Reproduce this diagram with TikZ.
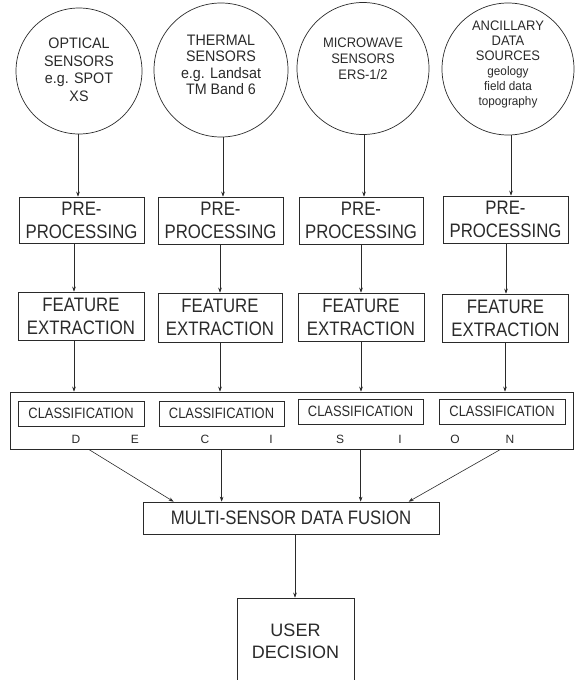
\documentclass[tikz,border=0pt]{standalone}
\usepackage{fontspec}
\setmainfont{Liberation Sans}
\newfontfamily\boxfont[FakeStretch=0.86]{Liberation Sans}
\newfontfamily\circfont[FakeStretch=0.94]{Liberation Sans}
\usetikzlibrary{calc,arrows.meta}
\definecolor{ink}{HTML}{2A2A2A}
\tikzset{
  arr/.style={draw=ink,line width=0.6pt,-{Stealth[length=5pt,width=3.6pt]}},
  sensor/.style={circle,draw=ink,line width=0.7pt,inner sep=0pt},
  ctext/.style={text=ink,align=center,inner sep=0pt},
  stepbox/.style={rectangle,draw=ink,line width=0.7pt,text=ink,align=center,inner sep=0pt,
    font=\boxfont\fontsize{19.5}{23}\selectfont},
  clbox/.style={rectangle,draw=ink,line width=0.7pt,text=ink,inner sep=0pt,
    minimum height=25pt,font=\boxfont\fontsize{15}{17}\selectfont},
  letter/.style={text=ink,inner sep=0pt,anchor=base,font=\fontsize{12}{14}\selectfont}
}
\begin{document}
\begin{tikzpicture}[x=1pt,y=-1pt]
\useasboundingbox (0,0) rectangle (579,680);
% sensors
\node[sensor,minimum size=126pt] (c1) at (79,71) {};
\node[sensor,minimum size=134pt] (c2) at (221,70) {};
\node[sensor,minimum size=132pt] (c3) at (363,68.5) {};
\node[sensor,minimum size=132pt] (c4) at (508,69) {};
\node[ctext,font=\circfont\fontsize{15.2}{17.5}\selectfont] (t1) at ([yshift=1pt]c1.center) {OPTICAL\\SENSORS\\e.g. SPOT\\XS};
\node[ctext,font=\circfont\fontsize{15.2}{16.5}\selectfont] (t2) at ([yshift=5pt]c2.center) {THERMAL\\SENSORS\\e.g. Landsat\\TM Band 6};
\node[ctext,font=\circfont\fontsize{13.8}{16}\selectfont] (t3) at ([yshift=10pt]c3.center) {MICROWAVE\\SENSORS\\ERS-1/2};
\node[ctext,font=\circfont\fontsize{13.8}{15}\selectfont] (t4) at ([yshift=5pt]c4.center)
  {ANCILLARY\\DATA\\SOURCES\\{\fontsize{12.5}{15}\selectfont geology}\\{\fontsize{12.5}{15}\selectfont field data}\\{\fontsize{12.5}{15}\selectfont topography}};
% pre-processing
\node[stepbox,minimum width=125pt,minimum height=46pt] (p1) at (81.5,220) {PRE-\\PROCESSING};
\node[stepbox,minimum width=125pt,minimum height=47pt] (p2) at (220.5,220.5) {PRE-\\PROCESSING};
\node[stepbox,minimum width=124pt,minimum height=47pt] (p3) at (361,220.5) {PRE-\\PROCESSING};
\node[stepbox,minimum width=125pt,minimum height=47pt] (p4) at (505.5,219.5) {PRE-\\PROCESSING};
% feature extraction
\node[stepbox,minimum width=126pt,minimum height=48pt] (f1) at (81,316) {FEATURE\\EXTRACTION};
\node[stepbox,minimum width=124pt,minimum height=49pt] (f2) at (220,317.5) {FEATURE\\EXTRACTION};
\node[stepbox,minimum width=126pt,minimum height=48pt] (f3) at (361,317) {FEATURE\\EXTRACTION};
\node[stepbox,minimum width=126pt,minimum height=48pt] (f4) at (505.5,318) {FEATURE\\EXTRACTION};
% decision box
\node[rectangle,draw=ink,line width=0.7pt,inner sep=0pt,minimum width=563pt,minimum height=57pt] (big) at (291.5,420.5) {};
\node[clbox,minimum width=126pt] (k1) at (81,413.5) {CLASSIFICATION};
\node[clbox,minimum width=125pt] (k2) at (221.5,413.5) {CLASSIFICATION};
\node[clbox,minimum width=125pt] (k3) at (360.5,411.5) {CLASSIFICATION};
\node[clbox,minimum width=126pt] (k4) at (502,411.5) {CLASSIFICATION};
\node[letter] (l1) at (76,443) {D};
\node[letter] (l2) at (135,443) {E};
\node[letter] (l3) at (205,443) {C};
\node[letter] (l4) at (271,443) {I};
\node[letter] (l5) at (340,443) {S};
\node[letter] (l6) at (400,443) {I};
\node[letter] (l7) at (455,443) {O};
\node[letter] (l8) at (510,443) {N};
% fusion and user
\node[stepbox,minimum width=296pt,minimum height=32pt] (fus) at (291,518) {MULTI-SENSOR DATA FUSION};
\node[stepbox,minimum width=117pt,minimum height=86pt,font=\fontsize{18}{22}\selectfont] (user) at (295.5,641) {USER\\DECISION};
% connectors: sensors -> pre-processing
\draw[arr] ([xshift=-1pt]c1.south) -- ([xshift=-1pt]c1.south |- p1.north);
\draw[arr] ([xshift=2pt]c2.south) -- ([xshift=2pt]c2.south |- p2.north);
\draw[arr] ([xshift=1pt]c3.south) -- ([xshift=1pt]c3.south |- p3.north);
\draw[arr] ([xshift=3pt]c4.south) -- ([xshift=3pt]c4.south |- p4.north);
% pre -> feature
\draw[arr] ([xshift=-7.5pt]p1.south) -- ([xshift=-7.5pt]p1.south |- f1.north);
\draw[arr] ([xshift=-0.5pt]p2.south) -- ([xshift=-0.5pt]p2.south |- f2.north);
\draw[arr] ([xshift=0pt]p3.south) -- ([xshift=0pt]p3.south |- f3.north);
\draw[arr] ([xshift=0.5pt]p4.south) -- ([xshift=0.5pt]p4.south |- f4.north);
% feature -> decision box
\draw[arr] ([xshift=-7pt]f1.south) -- ([xshift=-7pt]f1.south |- big.north);
\draw[arr] ([xshift=0pt]f2.south) -- ([xshift=0pt]f2.south |- big.north);
\draw[arr] ([xshift=0pt]f3.south) -- ([xshift=0pt]f3.south |- big.north);
\draw[arr] ([xshift=-0.5pt]f4.south) -- ([xshift=-0.5pt]f4.south |- big.north);
% decision -> fusion
\draw[arr] ($(big.south west)+(79,0)$) -- ($(fus.north west)+(31,0)$);
\draw[arr] ($(big.south west)+(212,0)$) -- ($(fus.north west)+(79,0)$);
\draw[arr] ($(big.south west)+(351,0)$) -- ($(fus.north west)+(218,0)$);
\draw[arr] ($(big.south west)+(491,0)$) -- ($(fus.north west)+(266,0)$);
% fusion -> user
\draw[arr] ([xshift=4pt]fus.south) -- ([xshift=4pt]fus.south |- user.north);
\end{tikzpicture}
\end{document}
